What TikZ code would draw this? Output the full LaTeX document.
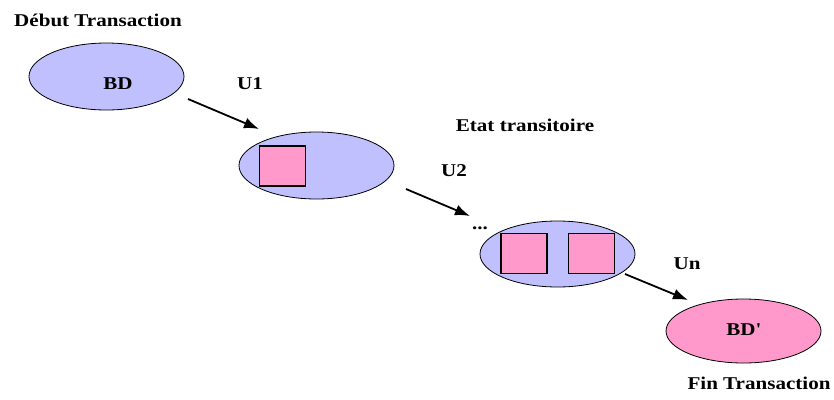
\documentclass[tikz,border=0pt]{standalone}
\usepackage{fontspec}
\setmainfont[FakeStretch=1.17]{Liberation Serif}
\usetikzlibrary{shapes.geometric,arrows.meta}
\definecolor{dbblue}{HTML}{C0C0FF}
\definecolor{dbpink}{HTML}{FF99CC}
\tikzset{
  dbell/.style={ellipse,draw=black,line width=0.8pt,inner sep=0pt,minimum width=155pt,minimum height=67pt},
  obj/.style={rectangle,draw=black,line width=1.6pt,fill=dbpink,inner sep=0pt,minimum width=46pt,minimum height=40pt},
  lbl/.style={font=\fontsize{18}{21}\selectfont\bfseries,inner sep=0pt},
  flow/.style={line width=1.8pt,-{Latex[length=15pt,width=11pt]}}
}
\begin{document}
\begin{tikzpicture}[x=1pt,y=-1pt]
\useasboundingbox (0,0) rectangle (834,399);
% ellipses
\node[dbell,fill=dbblue] (e1) at (106.5,76.5) {};
\node[dbell,fill=dbblue] (e2) at (316.5,165.5) {};
\node[dbell,fill=dbblue,minimum height=66pt] (e3) at (557.5,254) {};
\node[dbell,fill=dbpink,minimum height=64pt] (e4) at (743.5,331) {};
% objects
\node[obj] (o1) at (282.5,166) {};
\node[obj] (o2) at (524,253.5) {};
\node[obj] (o3) at (591.5,253.5) {};
% labels
\node[lbl] (tdebut) at (98,20) {Début Transaction};
\node[lbl] (tbd) at (118,84) {BD};
\node[lbl] (tu1) at (250,84) {U1};
\node[lbl] (tetat) at (525,125) {Etat transitoire};
\node[lbl] (tu2) at (454,171) {U2};
\node[lbl] (tdots) at (480,228) {...};
\node[lbl] (tun) at (687,264) {Un};
\node[lbl] (tbdp) at (743.5,330) {BD\textquotesingle};
\node[lbl] (tfin) at (759,383) {Fin Transaction};
% arrows
\coordinate (a1s) at (188,99);
\coordinate (a1e) at (259,129);
\coordinate (a2s) at (406,189);
\coordinate (a2e) at (470,216);
\coordinate (a3s) at (625,274);
\coordinate (a3e) at (688,300);
\draw[flow] (a1s) -- (a1e);
\draw[flow] (a2s) -- (a2e);
\draw[flow] (a3s) -- (a3e);
\end{tikzpicture}
\end{document}
